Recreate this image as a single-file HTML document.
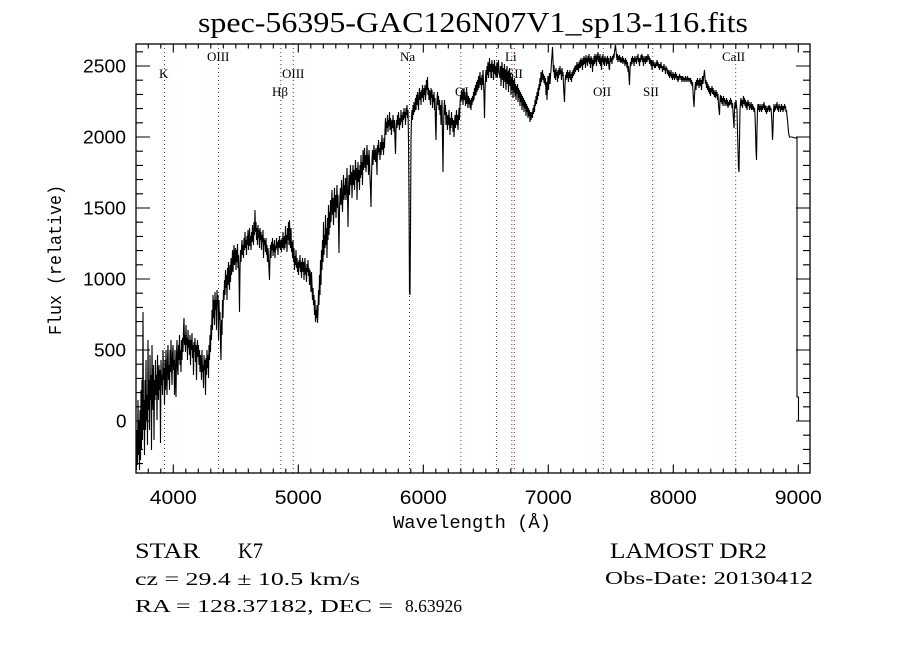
<!DOCTYPE html>
<html><head><meta charset="utf-8"><style>
html,body{margin:0;padding:0;background:#fff;}
svg{display:block;}
</style></head><body>
<svg width="900" height="650" viewBox="0 0 900 650" xmlns="http://www.w3.org/2000/svg">
<rect width="900" height="650" fill="#fff"/>
<defs><clipPath id="pc"><rect x="136" y="44" width="674" height="429"/></clipPath></defs>

<!-- title -->
<text x="198" y="32" font-family="Liberation Serif, serif" font-size="28" textLength="550" lengthAdjust="spacingAndGlyphs">spec-56395-GAC126N07V1_sp13-116.fits</text>

<!-- dotted line markers -->
<path d="M164.5 44V473M218.5 44V473M280.8 44V473M293.3 44V473M409.5 44V473M460.8 44V473M496.5 44V473M511.8 44V473M514.3 44V473M603.3 44V473M652.7 44V473M735.7 44V473" stroke="#8b2a2a" stroke-width="1" stroke-dasharray="1 3" fill="none"/>

<!-- line labels -->
<g font-family="Liberation Serif, serif" font-size="13" fill="#000">
<text x="159" y="78">K</text>
<text x="207" y="61">OIII</text>
<text x="282" y="78">OIII</text>
<text x="272" y="96">Hβ</text>
<text x="400" y="61">Na</text>
<text x="455" y="96">OI</text>
<text x="505" y="61">Li</text>
<text x="490" y="78">NII</text>
<text x="507" y="78">SII</text>
<text x="593" y="96">OII</text>
<text x="643" y="96">SII</text>
<text x="722" y="61">CaII</text>
</g>

<!-- spectrum -->
<polyline clip-path="url(#pc)" fill="none" stroke="#000" stroke-width="1.1" stroke-linejoin="miter" points="
136,440 136.5,470 137,430 137.5,465 138,400 138.5,455 139,420 139.5,470 140,410 140.5,460 141,390 141.5,450 142,380 142.5,440 143,312 143.5,430 144,400 144.5,455 145,380
145.5,430 146,360 146.5,420 147,395 147.5,445 148,340 148.5,410 149,380 149.5,430 150,355 150.5,400 151,375 151.5,450 152,345 152.5,390 153,410 153.5,365 154,440 154.5,380 155,400 155.5,360 156,395 156.5,375 157,420 157.5,355 158,385 158.5,400 159,365 159.5,390 160,370 160.5,443 161,360 161.5,385 162,375 162.5,395 163,350 163.5,380 164,368 164.5,405 165,360
165.5,390 166,350 166.5,375 167,395 167.5,360 168,345 168.5,380 169,365 169.5,390 170,350 170.5,372 171,340 171.5,368 172,385 172.5,355 173,345 173.5,370 174,360 174.5,395 175,350 175.5,380 176,397 176.5,355 177,340 177.5,368 178,375 178.5,345 179,360 179.5,335 180,365 180.5,350 181,372 181.5,340 182,360 182.5,338 183,352 183.5,330 184,318 184.5,345 185,335
185.5,352 186,325 186.5,345 187,338 187.5,360 188,330 188.5,348 189,340 189.5,355 190,335 190.5,365 191,340 191.5,350 192,333 192.5,358 193,345 193.5,375 194,342 194.5,352 195,338 195.5,362 196,345 196.5,380 197,350 197.5,340 198,357 198.5,345 199,365 199.5,350 200,372 200.5,355 201,360 201.5,380 202,350 202.5,372 203,365 203.5,388 204,355 204.5,370 205,360 205.5,395 206,358 206.5,375 207,350 207.5,368 208,355 208.5,378 209,345 209.5,360 210,335 210.5,352 211,325
211.5,340 212,310 212.5,330 213,295 213.5,318 214,300 214.5,325 215,292 215.5,310 216,300 216.5,330 217,290 217.5,305 218,295 218.5,340 219,300 219.5,320 220,312 220.5,345 221,360 221.5,320 222,335 222.5,300 223,318 223.5,290
224,300 224.5,280 225,295 225.5,270 226,288 226.5,275 227,300 227.5,268 228,285 228.5,262 229,278 229.5,290 230,265 230.5,282 231,258 231.5,275 232,268 232.5,250 233,272 233.5,258 234,245 234.5,265 235,255 235.5,248 236,270 236.5,250 237,262 237.5,244 238,268 238.5,255 239,275 239.5,312 240,270 240.5,250 241,262
241.5,248 242,240 242.5,255 243,245 243.5,258 244,238 244.5,250 245,232 245.5,248 246,240 246.5,255 247,236 247.5,245 248,230 248.5,250 249,242 249.5,228 250,246 250.5,236 251,250 251.5,232 252,242 252.5,225 253,238 253.5,245 254,222 254.5,235 255,210 255.5,232 256,222 256.5,240 257,228 257.5,245 258,225 258.5,238 259,230 259.5,248 260,228 260.5,240 261,232 261.5,250 262,235 262.5,242 263,230 263.5,258 264,238 264.5,245
265,240 265.5,252 266,238 266.5,255 267,245 267.5,262 268,248 268.5,258 269,270 269.5,280 270,255 270.5,245 271,258 271.5,242 272,250 272.5,238 273,256 273.5,244 274,252 274.5,240 275,258 275.5,246 276,250 276.5,238 277,248 277.5,242 278,255 278.5,240 279,248 279.5,236 280,245 280.5,250 281,240 281.5,252
282,238 282.5,248 283,232 283.5,245 284,250 284.5,236 285,248 285.5,226 286,244 286.5,235 287,252 287.5,228 288,240 288.5,222 289,245 289.5,220 290,238 290.5,248 291,228 291.5,252 292,242 292.5,258 293,240 293.5,262 294,248 294.5,270 295,256 295.5,265 296,250 296.5,268 297,258 297.5,272 298,262
298.5,275 299,260 299.5,268 300,255 300.5,272 301,262 301.5,278 302,265 302.5,258 303,272 303.5,262 304,280 304.5,266 305,258 305.5,275 306,268 306.5,282 307,264 307.5,272 308,260 308.5,276 309,268 309.5,285 310,270 310.5,278 311,292 311.5,272 312,285 312.5,300 313,288 313.5,305 314,295 314.5,315 315,300 315.5,322 316,310 316.5,318 317,305 317.5,323 318,312
318.5,290 319,305 319.5,275 320,295 320.5,260 321,285 321.5,250 322,270 322.5,240 323,262 323.5,222 324,255 324.5,235 325,248 325.5,215 326,245 326.5,228 327,258 327.5,218 328,240 328.5,205 329,235 329.5,212 330,228
330.5,200 331,222 331.5,205 332,190 332.5,215 333,198 333.5,225 334,205 334.5,188 335,212 335.5,195 336,218 336.5,200 337,185 337.5,208 338,195 338.5,225 339,253 339.5,210 340,195 340.5,188 341,205 341.5,180 342,198 342.5,212 343,190 343.5,175 344,200 344.5,185
345,195 345.5,178 346,200 346.5,188 347,168 347.5,195 348,227 348.5,190 349,175 349.5,195 350,182 350.5,165 351,185 351.5,172 352,198 352.5,178 353,165 353.5,185 354,170 354.5,190 355,175 355.5,160 356,180 356.5,168 357,200 357.5,175 358,162 358.5,182 359,170 359.5,190
360,165 360.5,178 361,155 361.5,175 362,162 362.5,185 363,150 363.5,170 364,160 364.5,148 365,168 365.5,155 366,172 366.5,158 367,145 367.5,165 368,155 368.5,175 369,150 369.5,162 370,178 370.5,190 371,207 371.5,175 372,160 372.5,150 373,165 373.5,155 374,145 374.5,160 375,150 375.5,162 376,148 376.5,158 377,175 377.5,145 378,155 378.5,140 379,152 379.5,148 380,160 380.5,142 381,155 381.5,145 382,135 382.5,150 383,142 383.5,155 384,138 384.5,148
385,130 385.5,118 386,135 386.5,122 387,128 387.5,115 388,132 388.5,120 389,126 389.5,112 390,130 390.5,118 391,125 391.5,135 392,120 392.5,128 393,115 393.5,125 394,132 394.5,120 395,140 395.5,154 396,130 396.5,120 397,128 397.5,115 398,125 398.5,112 399,122 399.5,130 400,118 400.5,125 401,110 401.5,122 402,115 402.5,128 403,112 403.5,120 404,108 404.5,118 405,112 405.5,125 406,108 406.5,115 407,105 407.5,118 408,110 408.5,140 409,200 409.5,292 410,295 410.5,230 411,140 411.5,118
412,110 412.5,120 413,105 413.5,115 414,102 414.5,112 415,108 415.5,98 416,110 416.5,95 417,105 417.5,92 418,100 418.5,110 419,95 419.5,88 420,100 420.5,92 421,105 421.5,90 422,98 422.5,85 423,95 423.5,102 424,88 424.5,95 425,85 425.5,100 426,92 426.5,80 427,90 427.5,77 428,95 428.5,88 429,100 429.5,90
430,96 430.5,105 431,88 431.5,98 432,90 432.5,108 433,95 433.5,102 434,92 434.5,110 435,98 435.5,125 436,140 436.5,110 437,100 437.5,92 438,105 438.5,96 439,110 439.5,100 440,115 440.5,105 441,125 441.5,110 442,100 442.5,140 443,172 443.5,130 444,110 444.5,100 445,115 445.5,105 446,125 446.5,112
447,120 447.5,130 448,115 448.5,125 449,110 449.5,122 450,135 450.5,118 451,128 451.5,112 452,125 452.5,118 453,132 453.5,120 454,137 454.5,125 455,115 455.5,128 456,120 456.5,110 457,125 457.5,115 458,130 458.5,118 459,108 459.5,120
460,105 460.5,95 461,102 461.5,90 462,100 462.5,92 463,105 463.5,95 464,88 464.5,100 465,92 465.5,106 466,96 466.5,104 467,92 467.5,100 468,108 468.5,96 469,104 469.5,98 470,108 470.5,100 471,110 471.5,98 472,105 472.5,96 473,102 473.5,92 474,100 474.5,88 475,96 475.5,85 476,95 476.5,82 477,92 477.5,80 478,90 478.5,76 479,88 479.5,80 480,72 480.5,85 481,78 481.5,90 482,75 482.5,85 483,70 483.5,82 484,95 484.5,118 485,90 485.5,78 486,70 486.5,82 487,66 487.5,75 488,62 488.5,78 489,68 489.5,58 490,72 490.5,64 491,78 491.5,66 492,60 492.5,72 493,64 493.5,80 494,68 494.5,60 495,74 495.5,66 496,78 496.5,70 497,62 497.5,76 498,68 498.5,60 499,72
500,78 500.5,66 501,86 501.5,70 502,62 502.5,80 503,68 503.5,88 504,72 504.5,64 505,82 505.5,70 506,90 506.5,74 507,66 507.5,84 508,72 508.5,92 509,76 509.5,68 510,86 510.5,74 511,95 511.5,78 512,90 512.5,76 513,98 513.5,80 514,92 514.5,78 515,96 515.5,84 516,100 516.5,86 517,94 517.5,84 518,102 518.5,88 519,98 519.5,90 520,106 520.5,92 521,102 521.5,94 522,110 522.5,96 523,106 523.5,98 524,112 524.5,100 525,108 525.5,102 526,116 526.5,104 527,112 527.5,106 528,118 528.5,108 529,116 529.5,110 530,122 530.5,112 531,120 531.5,114
532,112 532.5,118 533,108 533.5,114 534,105 534.5,112 535,100 535.5,106 536,96 536.5,104 537,92 537.5,100 538,88 538.5,96 539,84 539.5,90 540,78 540.5,86 541,72 541.5,82 542,75 542.5,70 543,80 543.5,74 544,83 544.5,76 545,85 545.5,78 546,95 546.5,82 547,100 547.5,86 548,76 548.5,90 549,80 549.5,73 550,84 550.5,76 551,70 551.5,62 552,55 552.5,47 553,60 553.5,72 554,65 554.5,78
555,70 555.5,80 556,68 556.5,76 557,72 557.5,82 558,70 558.5,78 559,68 559.5,75 560,66 560.5,74 561,70 561.5,80 562,68 562.5,76 563,72 563.5,85 564,95 564.5,102 565,85 565.5,75 566,80 566.5,72 567,78 567.5,70 568,76 568.5,82 569,72 569.5,78 570,70 570.5,80 571,74 571.5,82 572,72 572.5,78 573,70 573.5,76 574,68 574.5,74 575,66 575.5,72 576,65 576.5,70 577,62 577.5,70 578,64 578.5,72 579,62 579.5,68
580,60 580.5,68 581,58 581.5,66 582,60 582.5,70 583,58 583.5,65 584,56 584.5,64 585,58 585.5,68 586,55 586.5,63 587,58 587.5,66 588,56 588.5,62 589,54 589.5,64 590,58 590.5,68 591,56 591.5,64 592,58 592.5,72 593,60 593.5,66 594,56 594.5,64 595,54 595.5,62 596,56 596.5,66 597,54 597.5,60 598,52 598.5,62 599,56 599.5,64 600,54 600.5,66 601,58 601.5,70 602,56 602.5,62 603,54 603.5,64 604,58 604.5,66 605,56 605.5,62 606,58 606.5,66 607,60 607.5,56 608,64 608.5,58 609,68 609.5,70 610,60 610.5,56 611,62 611.5,58 612,64 612.5,56 613,60 613.5,54 614,58 614.5,52 615,48 615.5,45 616,50 616.5,56
617,60 617.5,54 618,62 618.5,56 619,60 619.5,55 620,62 620.5,57 621,63 621.5,58 622,62 622.5,56 623,64 623.5,58 624,62 624.5,60 625,66 625.5,58 626,64 626.5,60 627,68 627.5,62 628,72 628.5,66 629,78 629.5,85 630,70 630.5,62 631,66 631.5,58 632,64 632.5,56 633,62 633.5,58 634,66 634.5,60 635,56 635.5,62 636,58 636.5,64 637,56 637.5,60 638,54 638.5,62 639,58 639.5,66 640,58 640.5,62 641,55 641.5,60 642,54 642.5,62 643,56 643.5,66 644,58 644.5,62 645,56 645.5,64 646,60 646.5,56 647,62 647.5,58 648,54 648.5,60 649,56 649.5,64 650,58 650.5,62 651,66 651.5,60 652,70 652.5,64 653,60 653.5,66 654,62 654.5,68
655,64 655.5,68 656,62 656.5,66 657,60 657.5,66 658,62 658.5,68 659,64 659.5,70 660,64 660.5,68 661,62 661.5,68 662,66 662.5,72 663,66 663.5,70 664,64 664.5,70 665,68 665.5,74 666,66 666.5,70 667,68 667.5,74 668,70 668.5,76 669,70 669.5,78 670,72 670.5,76 671,70 671.5,78 672,74 672.5,80 673,72 673.5,78 674,74 674.5,80 675,76 675.5,72 676,78 676.5,74 677,80 677.5,76 678,82 678.5,76 679,80 679.5,74 680,78 680.5,76 681,80 681.5,76 682,82 682.5,76 683,80 683.5,77 684,82 684.5,78 685,80 685.5,76 686,82 686.5,78 687,80 687.5,76 688,82 688.5,78 689,80 689.5,78 690,82 690.5,78 691,84 691.5,80 692,86 692.5,82 693,92 693.5,100 694,107 694.5,95 695,88
695.5,82 696,90 696.5,80 697,86 697.5,78 698,85 698.5,80 699,88 699.5,82 700,78 700.5,86 701,80 701.5,90 702,82 702.5,76 703,84 703.5,78 704,74 704.5,70 705,78 705.5,84 706,80 706.5,88 707,82 707.5,90 708,84 708.5,92 709,86 709.5,94 710,88 710.5,96 711,88 711.5,92 712,86 712.5,94 713,88 713.5,95 714,90 714.5,97 715,92 715.5,98 716,90 716.5,96 717,92 717.5,100 718,94 718.5,105 719,110 719.5,115 720,100 720.5,95 721,102 721.5,96 722,104 722.5,98 723,106 723.5,96 724,102 724.5,98 725,106 725.5,100 726,104 726.5,98 727,106 727.5,100 728,108 728.5,102 729,106 729.5,100 730,105 730.5,98 731,104 731.5,100 732,108 732.5,103 733,112 733.5,120 734,128 734.5,110 735,102 735.5,108 736,100 736.5,106 737,110 737.5,130 738,150 738.5,168 739,172 739.5,140 740,110 740.5,102
741,98 741.5,106 742,100 742.5,108 743,102 743.5,96 744,104 744.5,98 745,106 745.5,100 746,108 746.5,102 747,110 747.5,104 748,100 748.5,106 749,102 749.5,110 750,104 750.5,108 751,102 751.5,110 752,106 752.5,104 753,110 753.5,106 754,112 754.5,108 755,115 755.5,130 756,150 756.5,160 757,130 757.5,110 758,104 758.5,110 759,104 759.5,112 760,106 760.5,110 761,104 761.5,112 762,106 762.5,110 763,104 763.5,108 764,102 764.5,110 765,105 765.5,112 766,106 766.5,114 767,108 767.5,112 768,106 768.5,110 769,105 769.5,112 770,106 770.5,110 771,108 771.5,115 772,125 772.5,140 773,130 773.5,112 774,104 774.5,112 775,106 775.5,110 776,104 776.5,108 777,102 777.5,110 778,106 778.5,112 779,104 779.5,108 780,106 780.5,112 781,108 781.5,104 782,110 782.5,106 783,112 783.5,106 784,110 784.5,104 785,108 785.5,106 786,112 786.5,110 787,116 787.5,120 788,126 788.5,132 789,135 789.5,137 792,137 795,138 797,138 797,397 798.5,397 798.5,421 796.5,421 800.5,421"/>

<!-- frame -->
<rect x="136" y="44" width="674" height="429" fill="none" stroke="#000" stroke-width="1.3"/>

<!-- ticks -->
<path fill="none" stroke="#000" stroke-width="1.1" d="
M136 463.6h7M136 449.4h7M136 435.2h7M136 406.8h7M136 392.6h7M136 378.4h7M136 364.2h7M136 335.8h7M136 321.6h7M136 307.4h7M136 293.2h7M136 264.8h7M136 250.6h7M136 236.4h7M136 222.2h7M136 193.8h7M136 179.6h7M136 165.4h7M136 151.2h7M136 122.8h7M136 108.6h7M136 94.4h7M136 80.2h7M136 51.8h7
M136 421h14M136 350h14M136 279h14M136 208h14M136 137h14M136 66h14
M810 463.6h-7M810 449.4h-7M810 435.2h-7M810 406.8h-7M810 392.6h-7M810 378.4h-7M810 364.2h-7M810 335.8h-7M810 321.6h-7M810 307.4h-7M810 293.2h-7M810 264.8h-7M810 250.6h-7M810 236.4h-7M810 222.2h-7M810 193.8h-7M810 179.6h-7M810 165.4h-7M810 151.2h-7M810 122.8h-7M810 108.6h-7M810 94.4h-7M810 80.2h-7M810 51.8h-7
M810 421h-14M810 350h-14M810 279h-14M810 208h-14M810 137h-14M810 66h-14
M148.3 473v-4.5M160.8 473v-4.5M185.8 473v-4.5M198.3 473v-4.5M210.8 473v-4.5M223.3 473v-4.5M235.8 473v-4.5M248.3 473v-4.5M260.8 473v-4.5M273.3 473v-4.5M285.8 473v-4.5M310.8 473v-4.5M323.3 473v-4.5M335.8 473v-4.5M348.3 473v-4.5M360.8 473v-4.5M373.3 473v-4.5M385.8 473v-4.5M398.3 473v-4.5M410.8 473v-4.5M435.8 473v-4.5M448.3 473v-4.5M460.8 473v-4.5M473.3 473v-4.5M485.8 473v-4.5M498.3 473v-4.5M510.8 473v-4.5M523.3 473v-4.5M535.8 473v-4.5M560.8 473v-4.5M573.3 473v-4.5M585.8 473v-4.5M598.3 473v-4.5M610.8 473v-4.5M623.3 473v-4.5M635.8 473v-4.5M648.3 473v-4.5M660.8 473v-4.5M685.8 473v-4.5M698.3 473v-4.5M710.8 473v-4.5M723.3 473v-4.5M735.8 473v-4.5M748.3 473v-4.5M760.8 473v-4.5M773.3 473v-4.5M785.8 473v-4.5
M173.3 473v-8.5M298.3 473v-8.5M423.3 473v-8.5M548.3 473v-8.5M673.3 473v-8.5M798.3 473v-8.5
M148.3 44v4.5M160.8 44v4.5M185.8 44v4.5M198.3 44v4.5M210.8 44v4.5M223.3 44v4.5M235.8 44v4.5M248.3 44v4.5M260.8 44v4.5M273.3 44v4.5M285.8 44v4.5M310.8 44v4.5M323.3 44v4.5M335.8 44v4.5M348.3 44v4.5M360.8 44v4.5M373.3 44v4.5M385.8 44v4.5M398.3 44v4.5M410.8 44v4.5M435.8 44v4.5M448.3 44v4.5M460.8 44v4.5M473.3 44v4.5M485.8 44v4.5M498.3 44v4.5M510.8 44v4.5M523.3 44v4.5M535.8 44v4.5M560.8 44v4.5M573.3 44v4.5M585.8 44v4.5M598.3 44v4.5M610.8 44v4.5M623.3 44v4.5M635.8 44v4.5M648.3 44v4.5M660.8 44v4.5M685.8 44v4.5M698.3 44v4.5M710.8 44v4.5M723.3 44v4.5M735.8 44v4.5M748.3 44v4.5M760.8 44v4.5M773.3 44v4.5M785.8 44v4.5
M173.3 44v8.5M298.3 44v8.5M423.3 44v8.5M548.3 44v8.5M673.3 44v8.5M798.3 44v8.5"/>

<!-- x tick labels -->
<g font-family="Liberation Sans, sans-serif" font-size="19" fill="#000">
<text x="149.8" y="504" textLength="47" lengthAdjust="spacingAndGlyphs">4000</text>
<text x="274.8" y="504" textLength="47" lengthAdjust="spacingAndGlyphs">5000</text>
<text x="399.8" y="504" textLength="47" lengthAdjust="spacingAndGlyphs">6000</text>
<text x="524.8" y="504" textLength="47" lengthAdjust="spacingAndGlyphs">7000</text>
<text x="649.8" y="504" textLength="47" lengthAdjust="spacingAndGlyphs">8000</text>
<text x="774.8" y="504" textLength="47" lengthAdjust="spacingAndGlyphs">9000</text>
</g>
<!-- y tick labels -->
<g font-family="Liberation Sans, sans-serif" font-size="18" fill="#000">
<text x="83" y="72.5" textLength="43" lengthAdjust="spacingAndGlyphs">2500</text>
<text x="83" y="143.5" textLength="43" lengthAdjust="spacingAndGlyphs">2000</text>
<text x="83" y="214.5" textLength="43" lengthAdjust="spacingAndGlyphs">1500</text>
<text x="83" y="285.5" textLength="43" lengthAdjust="spacingAndGlyphs">1000</text>
<text x="94" y="356.5" textLength="32" lengthAdjust="spacingAndGlyphs">500</text>
<text x="116" y="427.5" textLength="10.5" lengthAdjust="spacingAndGlyphs">0</text>
</g>

<!-- axis titles -->
<text x="393" y="528" font-family="Liberation Mono, monospace" font-size="18" textLength="158" lengthAdjust="spacingAndGlyphs">Wavelength (Å)</text>
<text transform="translate(61,335) rotate(-90)" font-family="Liberation Mono, monospace" font-size="18" textLength="150" lengthAdjust="spacingAndGlyphs">Flux (relative)</text>

<!-- info text -->
<g font-family="Liberation Serif, serif" fill="#000">
<text x="135" y="558" font-size="22" textLength="65" lengthAdjust="spacingAndGlyphs">STAR</text>
<text x="238" y="558" font-size="22" textLength="25" lengthAdjust="spacingAndGlyphs">K7</text>
<text x="135" y="585" font-size="18" textLength="225" lengthAdjust="spacingAndGlyphs">cz = 29.4 ± 10.5 km/s</text>
<text x="135" y="612" font-size="18" textLength="258" lengthAdjust="spacingAndGlyphs">RA = 128.37182, DEC =</text>
<text x="405" y="612" font-size="18" textLength="57" lengthAdjust="spacingAndGlyphs">8.63926</text>
<text x="610" y="558" font-size="22" textLength="157" lengthAdjust="spacingAndGlyphs">LAMOST DR2</text>
<text x="605" y="584" font-size="18" textLength="208" lengthAdjust="spacingAndGlyphs">Obs-Date: 20130412</text>
</g>
</svg>
</body></html>
